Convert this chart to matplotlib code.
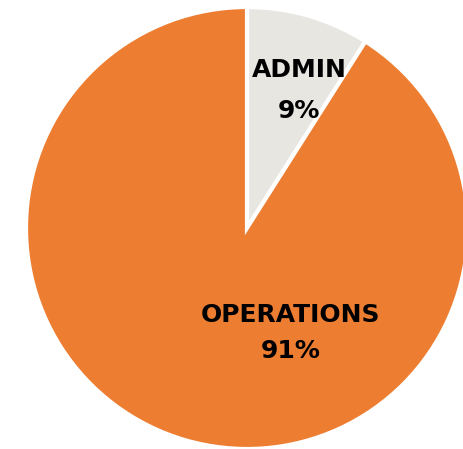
import matplotlib.pyplot as plt

# department share of spend
labels = ["ADMIN", "OPERATIONS"]
shares = [9, 91]
colors = ["#E7E6E1", "#ED7D31"]

plt.rcParams["font.family"] = ["DejaVu Sans"]

fig = plt.figure(figsize=(4.64, 4.49), dpi=100)
ax = fig.add_axes([0, 0, 1, 1])

ax.pie(shares, colors=colors, startangle=90, counterclock=False,
       center=(247, 221), radius=221,
       wedgeprops=dict(edgecolor="white", linewidth=3))

# pie() resets the limits, so set them afterwards
ax.set_xlim(0, 464)
ax.set_ylim(0, 449)
ax.set_aspect("equal")
ax.axis("off")

# (x, baseline of name, baseline of percent)
label_pos = [(299, 372, 331), (291, 127, 91)]
for name, val, (x, y1, y2) in zip(labels, shares, label_pos):
    style = dict(ha="center", va="baseline", fontsize=18,
                 fontweight="bold", color="black")
    ax.text(x, y1, name, **style)
    ax.text(x, y2, f"{val}%", **style)

fig.savefig("out.png", dpi=100)
